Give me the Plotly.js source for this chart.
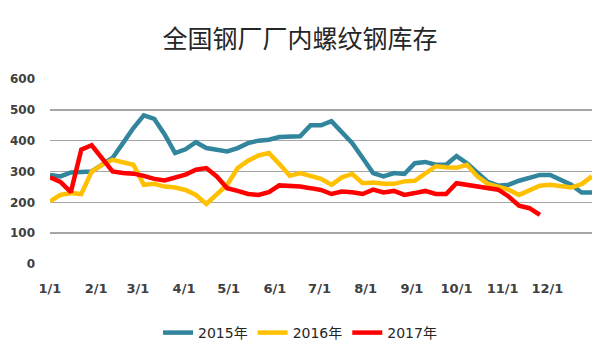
<!DOCTYPE html>
<html>
<head>
<meta charset="utf-8">
<script src="https://cdn.plot.ly/plotly-3.0.1.min.js"></script>
<style>html,body{margin:0;padding:0;background:#fff;}#chart{width:600px;height:359px;}</style>
</head>
<body>
<div id="chart"></div>
<script>
// Weekly observations (week 1 = 1/1)
const startDate = '2017-01-01';
const seriesNames = ['2015年', '2016年', '2017年'];
const stock2015 = [289,284,297,300,300,322,344,392,441,482,471,420,360,372,395,376,369,365,376,392,400,403,412,412,414,450,450,463,430,392,344,295,284,295,292,327,331,322,322,350,327,295,266,254,257,270,281,289,289,273,257,232,232];
const stock2016 = [203,224,230,227,300,322,338,331,322,257,260,251,248,240,224,195,224,257,311,335,352,360,324,286,295,284,276,257,281,292,262,264,260,260,268,270,292,317,314,312,322,284,260,251,241,224,241,254,257,251,248,259,284];
const stock2017 = [281,266,233,371,385,340,300,295,293,286,276,271,279,290,306,311,284,246,237,227,224,233,255,254,251,246,240,227,235,233,227,241,232,237,224,230,237,227,227,262,257,249,244,241,219,189,181,159];
const colors = ['#31859c', '#ffc000', '#ff0000'];

function weekDates(n) {
  const out = [];
  const d0 = new Date(startDate + 'T00:00:00Z');
  for (let i = 0; i < n; i++) {
    const d = new Date(d0.getTime() + i * 7 * 86400000);
    out.push(d.toISOString().slice(0, 10));
  }
  return out;
}

const allSeries = [stock2015, stock2016, stock2017];
const traces = allSeries.map((vals, k) => ({
  type: 'scatter',
  mode: 'lines',
  name: seriesNames[k],
  x: weekDates(vals.length),
  y: vals,
  line: {color: colors[k], width: 4.5}
}));

const tickFontFamily = '"DejaVu Sans", "Noto Sans CJK SC", sans-serif';

const layout = {
  width: 600, height: 359,
  margin: {l: 50, r: 8, t: 79, b: 95},
  paper_bgcolor: '#ffffff', plot_bgcolor: '#ffffff',
  font: {family: tickFontFamily, size: 12, color: '#404040'},
  title: {
    text: '全国钢厂厂内螺纹钢库存',
    font: {family: '"Noto Sans CJK SC", sans-serif', size: 25, color: '#262626'},
    x: 0.5, xanchor: 'center', xref: 'container',
    y: 1 - 39 / 359, yref: 'container', yanchor: 'middle'
  },
  xaxis: {
    type: 'date',
    range: ['2017-01-01', '2017-12-31'],
    tick0: '2017-01-01', dtick: 'M1',
    tickformat: '%-m/%-d',
    showgrid: false, zeroline: false,
    showline: false, ticks: '',
    ticklabelstandoff: 15,
    tickfont: {family: tickFontFamily, size: 13, color: '#404040', weight: 'bold'}
  },
  yaxis: {
    range: [0, 600], dtick: 100,
    showgrid: true, gridcolor: '#a6a6a6', gridwidth: 1.5,
    zeroline: false, showline: false, ticks: '',
    ticklabelstandoff: 14,
    tickfont: {family: tickFontFamily, size: 12, color: '#404040', weight: 'bold'}
  },
  showlegend: true,
  legend: {
    orientation: 'h', x: 0.5, xanchor: 'center', xref: 'container',
    y: 26 / 359, yref: 'container', yanchor: 'middle',
    font: {family: tickFontFamily, size: 14, color: '#262626'},
    itemwidth: 30
  }
};

Plotly.newPlot('chart', traces, layout, {displayModeBar: false, staticPlot: true});
</script>
</body>
</html>
